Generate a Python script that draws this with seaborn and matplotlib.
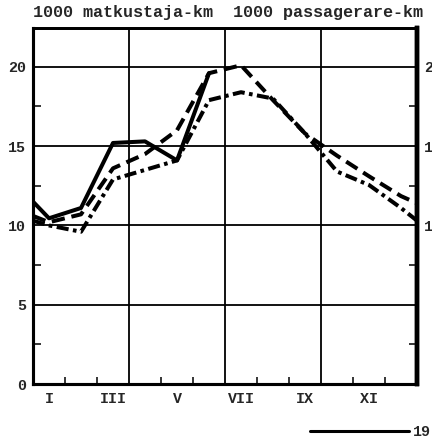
import matplotlib
matplotlib.use("Agg")
import matplotlib.pyplot as plt
import seaborn as sns
import pandas as pd
from matplotlib.lines import Line2D

# ---- data ----
# x positions in month units: 0 = left edge, 0.5 = January centre ... 12 = right edge
x_pos = [0, 0.5, 1.5, 2.5, 3.5, 4.5, 5.5, 6.5, 7.5, 8.5, 9.5, 10.5, 11.5, 12]
solid_vals = [11.5, 10.45, 11.1, 15.2, 15.3, 14.1, 19.6]
dashed_vals = [10.6, 10.2, 10.7, 13.6, 14.5, 16.0, 19.6, 20.1, 17.9, 15.8, 14.4, 13.1, 11.85, 11.4]
dashdot_vals = [10.3, 10.0, 9.6, 12.9, 13.5, 14.1, 17.9, 18.4, 18.0, 15.8, 13.4, 12.55, 11.1, 10.3]

month_ticks = [0.5, 2.5, 4.5, 6.5, 8.5, 10.5]
month_labels = ["I", "III", "V", "VII", "IX", "XI"]
y_ticks = [0, 5, 10, 15, 20]
y_labels_left = ["0", "5", "10", "15", "20"]
y_labels_right = [" 0", " 5", "10", "15", "20"]
x_grid = [3, 6, 9]
title_text = "1000 matkustaja-km  1000 passagerare-km"
legend_text = "19"

df = pd.concat([
    pd.DataFrame({"x": x_pos[:len(solid_vals)], "v": solid_vals, "s": "solid"}),
    pd.DataFrame({"x": x_pos, "v": dashed_vals, "s": "dashed"}),
    pd.DataFrame({"x": x_pos, "v": dashdot_vals, "s": "dashdot"}),
])

sns.set_style("white")
plt.rcParams["font.family"] = ["Liberation Mono", "DejaVu Sans Mono"]
plt.rcParams["font.weight"] = "bold"

fig = plt.figure(figsize=(4.32, 4.41), dpi=100)
ax = fig.add_axes([33 / 432, 1 - 384 / 441, 384 / 432, (384 - 28) / 441])

lw = 2.9
sns.lineplot(data=df, x="x", y="v", style="s", color="black", linewidth=lw,
             dashes={"solid": "", "dashed": (3.3, 1.7), "dashdot": (3.0, 1.1, 0.9, 1.1)},
             style_order=["solid", "dashed", "dashdot"], sort=False,
             estimator=None, legend=False, ax=ax)

ax.set_xlim(0, 12)
ax.set_ylim(0, 22.45)

for g in x_grid:
    ax.axvline(g, color="black", lw=1.3, zorder=1)
for g in y_ticks[1:]:
    ax.axhline(g, color="black", lw=1.3, zorder=1)

ax.set_xticks(month_ticks)
ax.set_xticklabels(month_labels)
ax.set_xticks([1, 2, 4, 5, 7, 8, 10, 11], minor=True)
ax.set_yticks(y_ticks)
ax.set_yticklabels(y_labels_left)
ax.set_yticks([2.5, 7.5, 12.5, 17.5], minor=True)
ax.tick_params(axis="x", which="major", length=0, pad=6, labelsize=10.8)
ax.tick_params(axis="x", which="minor", direction="in", length=5, width=1.3, bottom=True)
ax.tick_params(axis="y", which="major", length=0, pad=5, labelsize=10.8)
ax.tick_params(axis="y", which="minor", direction="in", length=6, width=1.3, left=True, right=True)
ax.set_xlabel("")
ax.set_ylabel("")

axr = ax.twinx()
axr.set_ylim(ax.get_ylim())
axr.set_yticks(y_ticks)
axr.set_yticklabels(y_labels_right)
axr.tick_params(axis="y", which="major", length=0, pad=5, labelsize=10.8)
axr.set_yticks([2.5, 7.5, 12.5, 17.5], minor=True)
axr.tick_params(axis="y", which="minor", direction="in", length=6, width=1.3)

for a in (ax, axr):
    for side, w in (("left", 2.2), ("bottom", 2.2), ("top", 2.0), ("right", 3.2)):
        a.spines[side].set_visible(True)
        a.spines[side].set_color("black")
        a.spines[side].set_linewidth(w)

fig.text(33 / 432, 1 - 13 / 441, title_text, fontsize=12.05, va="center", ha="left")

handle = Line2D([], [], color="black", lw=2.2)
fig.legend([handle], [legend_text], loc="center left",
           bbox_to_anchor=(310 / 432, 1 - 432 / 441), frameon=False,
           borderpad=0, borderaxespad=0, handlelength=6.6, handletextpad=0.25,
           prop={"family": "Liberation Mono", "weight": "bold", "size": 10.8})

fig.savefig("out.png", dpi=100)
